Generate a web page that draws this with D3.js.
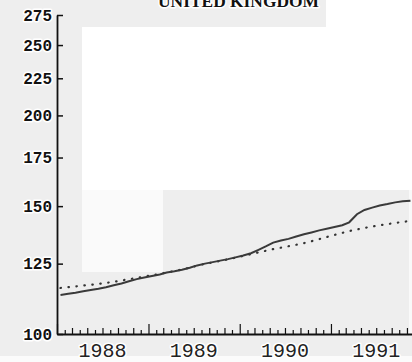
<!DOCTYPE html>
<html>
<head>
<meta charset="utf-8">
<script src="https://cdn.jsdelivr.net/npm/d3@7"></script>
<style>
  html, body { margin: 0; padding: 0; background: #eeeeee; }
  svg { display: block; }
  .tick-label { paint-order: stroke; stroke: #fff; stroke-width: 3px; stroke-linejoin: round; }
</style>
</head>
<body>
<svg id="chart" width="412" height="362"></svg>
<script>
// chart values (monthly, Jan 1988 .. Nov 1991)
const startMonth = new Date(1988, 0, 15);
const solidSeries = [
  113.2, 113.6, 114.0, 114.5, 115.0, 115.4, 116.0, 116.7, 117.4, 118.2, 119.0, 119.6,
  120.2, 120.8, 121.5, 122.0, 122.6, 123.4, 124.3, 125.0, 125.6, 126.2, 126.8, 127.5,
  128.3, 129.2, 130.5, 132.0, 133.6, 134.5, 135.2, 136.2, 137.2, 138.0, 138.9, 139.6,
  140.4, 141.2, 142.5, 146.2, 148.2, 149.3, 150.3, 151.0, 151.8, 152.3, 152.6
];
const dottedSeries = [
  115.7, 116.0, 116.3, 116.6, 116.9, 117.2, 117.6, 118.0, 118.5, 119.0, 119.4, 120.0,
  120.5, 121.0, 121.6, 122.1, 122.7, 123.4, 124.2, 124.9, 125.5, 126.1, 126.7, 127.4,
  128.1, 128.8, 129.5, 130.2, 130.9, 131.5, 132.1, 132.7, 133.4, 134.2, 135.1, 136.0,
  136.9, 137.8, 138.6, 139.3, 140.0, 140.6, 141.2, 141.7, 142.2, 142.7, 143.1
];
const yTicks = [100, 125, 150, 175, 200, 225, 250, 275];
const yearLabels = [1988, 1989, 1990, 1991];
const title = 'UNITED KINGDOM';

const svg = d3.select('#chart');
const width = 412, height = 362;

// background panels
svg.append('rect').attr('width', width).attr('height', height).attr('fill', '#eeeeee');
svg.append('rect').attr('x', 326).attr('y', 0).attr('width', 86).attr('height', 27).attr('fill', '#fff');
svg.append('rect').attr('x', 82).attr('y', 27).attr('width', 330).attr('height', 163).attr('fill', '#fff');
svg.append('rect').attr('x', 82).attr('y', 190).attr('width', 81).attr('height', 82).attr('fill', '#fafafa');
svg.append('rect').attr('x', 409).attr('y', 190).attr('width', 3).attr('height', 146).attr('fill', '#f9f9f9');
svg.append('rect').attr('x', 0).attr('y', 356).attr('width', width).attr('height', 6).attr('fill', '#fbfbfb');

// scales
const x = d3.scaleTime()
  .domain([new Date(1988, 0, 1), new Date(1992, 0, 1)])
  .range([57, 57 + 4 * 91.3]);
const y = d3.scaleLog()
  .domain([100, 275])
  .range([334, 15]);

const dateAt = i => d3.timeMonth.offset(startMonth, i);

// lines
const line = d3.line()
  .x((d, i) => x(dateAt(i)))
  .y(d => y(d));

svg.append('path')
  .datum(dottedSeries)
  .attr('d', line)
  .attr('fill', 'none')
  .attr('stroke', '#333')
  .attr('stroke-width', 2.2)
  .attr('stroke-linecap', 'round')
  .attr('stroke-dasharray', '0.5,7.5');

svg.append('path')
  .datum(solidSeries)
  .attr('d', line)
  .attr('fill', 'none')
  .attr('stroke', '#3a3a3a')
  .attr('stroke-width', 2);

// y axis
const yAxis = svg.append('g')
  .attr('transform', 'translate(57,0)')
  .call(d3.axisLeft(y).tickValues(yTicks).tickSizeInner(-6).tickSizeOuter(0).tickPadding(5).tickFormat(d3.format('d')));
yAxis.select('.domain').attr('stroke', '#111').attr('stroke-width', 1.8);
yAxis.selectAll('.tick line').attr('stroke', '#111').attr('stroke-width', 1.5);
yAxis.selectAll('.tick text')
  .attr('class', 'tick-label')
  .attr('fill', '#111')
  .style('font-family', '"Liberation Mono", monospace')
  .style('font-weight', 'bold')
  .style('font-size', '16px');

// x axis: monthly ticks
const months = d3.timeMonth.range(new Date(1988, 0, 1), new Date(1991, 11, 1));
const xAxis = svg.append('g')
  .attr('transform', 'translate(0,334)')
  .call(d3.axisBottom(x).tickValues(months).tickSizeOuter(0).tickFormat(''));
xAxis.select('.domain').attr('stroke', '#111').attr('stroke-width', 1.8);
xAxis.selectAll('.tick line')
  .attr('stroke', '#111')
  .attr('stroke-width', 1.2)
  .attr('y2', d => d.getMonth() === 0 ? -10 : (d.getMonth() % 2 === 0 ? -6 : -4));

// year labels at mid-year
svg.append('g')
  .selectAll('text')
  .data(yearLabels)
  .join('text')
  .attr('class', 'tick-label')
  .attr('x', d => x(new Date(d, 6, 1)))
  .attr('y', 357)
  .attr('text-anchor', 'middle')
  .attr('fill', '#222')
  .style('font-family', '"Liberation Mono", monospace')
  .style('font-size', '20px')
  .text(d => d);

// title (clipped at top in the original)
svg.append('text')
  .attr('class', 'tick-label')
  .attr('x', 238.5)
  .attr('y', 7)
  .attr('text-anchor', 'middle')
  .attr('textLength', 161)
  .attr('lengthAdjust', 'spacingAndGlyphs')
  .attr('fill', '#111')
  .style('font-family', '"Liberation Serif", serif')
  .style('font-weight', 'bold')
  .style('font-size', '17.5px')
  .text(title);
</script>
</body>
</html>
